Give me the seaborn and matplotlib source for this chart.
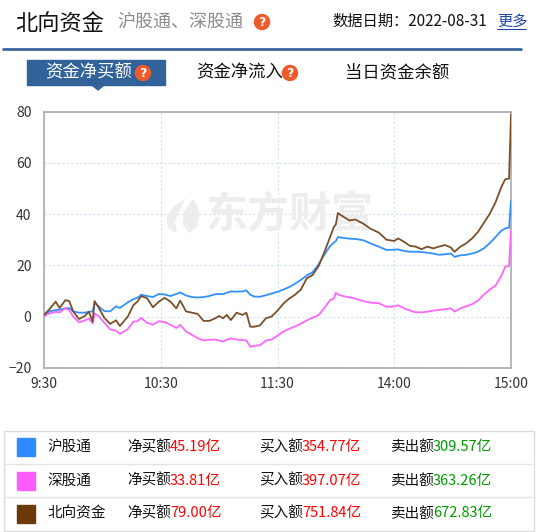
import matplotlib
matplotlib.use("Agg")
import matplotlib.pyplot as plt
from matplotlib.patches import Rectangle, Circle, Polygon
import seaborn as sns
import pandas as pd

# ---------------- data ----------------
minutes = [0, 3, 6, 8, 11, 13, 15, 18, 21, 23, 25, 26, 28, 31, 34, 37, 39, 43, 46, 48,
           50, 53, 56, 59, 62, 65, 68, 70, 73, 76, 79, 82, 85, 88, 90, 92, 94, 96, 99, 102,
           104, 106, 108, 111, 114, 117, 120, 123, 126, 129, 132, 135, 138, 141, 144, 147, 149, 150, 151, 154,
           157, 160, 164, 168, 172, 176, 180, 182, 185, 188, 191, 194, 197, 200, 203, 206, 209, 211, 214, 217,
           220, 223, 226, 229, 232, 235, 237, 239, 240]

hgt = [0.6, 2.0, 2.5, 2.6, 3.2, 3.3, 2.0, 1.5, 1.5, 1.8, 2.0, 5.3, 4.0, 2.1, 2.0, 4.0, 3.3, 5.5, 6.8, 7.3,
       8.5, 8.0, 7.6, 8.8, 8.6, 8.0, 8.8, 9.4, 8.2, 7.6, 7.4, 7.6, 8.0, 8.7, 8.8, 8.7, 9.3, 9.8, 9.7, 9.8,
       10.2, 8.5, 7.8, 7.7, 8.3, 9.0, 9.6, 10.5, 11.5, 12.8, 14.3, 16.0, 17.3, 20.2, 24.0, 27.5, 28.9, 29.5, 31.0, 30.7,
       30.4, 30.3, 29.8, 28.5, 27.3, 26.0, 26.1, 26.2, 25.6, 25.3, 25.3, 25.2, 24.9, 24.6, 24.1, 24.3, 24.6, 23.3, 23.9, 24.1,
       24.6, 25.3, 26.6, 28.6, 31.0, 33.5, 34.4, 34.7, 45.19]

sgt = [0.2, 1.2, 1.8, 1.6, 3.2, 2.5, 0.0, -2.3, -1.5, -0.8, -2.7, 1.2, 0.2, -2.5, -5.0, -5.5, -6.8, -5.0, -2.0, -1.8,
       -0.6, -2.5, -3.2, -1.8, -2.2, -3.2, -4.5, -3.3, -5.8, -7.2, -8.5, -9.3, -9.1, -9.0, -9.4, -9.8, -9.0, -8.6, -9.0, -9.2,
       -9.4, -11.8, -11.5, -11.2, -9.4, -9.0, -7.5, -5.9, -4.8, -3.9, -2.8, -1.5, -0.5, 0.5, 3.2, 6.4, 7.1, 9.3, 8.6, 7.9,
       7.5, 7.0, 6.0, 5.4, 5.2, 3.8, 3.9, 4.4, 3.2, 2.3, 1.7, 1.6, 1.9, 2.3, 2.6, 2.8, 3.2, 1.9, 3.2, 4.0,
       4.8, 6.2, 8.5, 10.5, 12.0, 15.8, 19.5, 19.7, 33.81]

bx = [0.6, 3.0, 5.8, 3.3, 6.4, 6.0, 2.0, -1.0, 0.2, 1.9, -2.0, 6.0, 3.6, -0.5, -2.9, -1.5, -3.7, -0.1, 4.5, 5.8,
      8.0, 7.1, 3.6, 5.8, 7.3, 5.8, 3.2, 6.2, 2.0, 1.5, 1.0, -1.7, -1.7, -0.7, 0.2, -0.7, 0.6, -1.4, 1.5, 0.6,
      1.5, -4.0, -4.0, -3.5, -0.7, 0.0, 2.3, 5.0, 7.0, 8.5, 10.5, 14.9, 16.2, 19.5, 25.0, 31.0, 35.0, 36.0, 40.4, 38.9,
      37.5, 37.9, 36.3, 34.2, 32.8, 30.0, 29.5, 30.5, 29.2, 27.6, 27.3, 26.3, 27.3, 26.6, 27.3, 27.9, 27.0, 25.3, 27.3, 28.6,
      30.5, 33.0, 36.5, 40.0, 44.5, 50.5, 53.6, 53.9, 79.0]

series_names = ["沪股通", "深股通", "北向资金"]
net_buy = ["45.19亿", "33.81亿", "79.00亿"]
buy_amt = ["354.77亿", "397.07亿", "751.84亿"]
sell_amt = ["309.57亿", "363.26亿", "672.83亿"]

x_tick_pos = [0, 60, 120, 180, 240]
x_tick_labels = ["9:30", "10:30", "11:30", "14:00", "15:00"]
y_ticks = [-20, 0, 20, 40, 60, 80]

line_colors = ["#3391ff", "#ff66ff", "#7a5028"]
square_colors = ["#2e8bff", "#ff5cff", "#6b3a08"]

# ---------------- figure ----------------
sns.set_style("white")
plt.rcParams['font.family'] = ['Noto Sans CJK SC', 'DejaVu Sans']

W, H = 537, 532
fig = plt.figure(figsize=(W / 100, H / 100), dpi=100)
fig.patch.set_facecolor("white")

L, R, T, B = 44, 511, 111.7, 367.7
ax = fig.add_axes([L / W, 1 - B / H, (R - L) / W, (B - T) / H])

df = pd.concat([
    pd.DataFrame({"minute": minutes, "value": v, "series": n})
    for v, n in zip([hgt, sgt, bx], series_names)
])
sns.lineplot(data=df, x="minute", y="value", hue="series", hue_order=series_names,
             palette=line_colors, ax=ax, legend=False, linewidth=1.3, zorder=3)

ax.set_xlim(0, 240)
ax.set_ylim(-20, 80)
ax.set_xticks(x_tick_pos)
ax.set_xticklabels(x_tick_labels)
ax.set_yticks(y_ticks)
ax.set_xlabel("")
ax.set_ylabel("")
ax.tick_params(axis="both", length=0, labelsize=10, colors="#333333")
ax.tick_params(axis="y", pad=9)
ax.tick_params(axis="x", pad=7)
ax.grid(True, color="#cfe0f2", linestyle=(0, (2, 2)), linewidth=0.8)
for s in ax.spines.values():
    s.set_color("#aaaaaa")
    s.set_linewidth(1.2)

# watermark (text + leaf logo), drawn beneath the lines
def to_ax(px, py):
    return (px - L) / (R - L), (B - py) / (B - T)

wx, wy = to_ax(290, 215)
wm = ax.text(wx, wy, "东方财富", transform=ax.transAxes, ha="center", va="center",
             fontsize=29, fontweight="bold", color="#ededee", zorder=1)
fig.canvas.draw()
bb = wm.get_window_extent(renderer=fig.canvas.get_renderer())
if bb.width > 0:
    wm.set_fontsize(29 * 168.0 / bb.width)

leaf1 = [to_ax(px, py) for px, py in [(186, 198), (174, 206), (166, 218), (168, 228), (177, 233),
                                      (175, 222), (179, 211)]]
leaf2 = [to_ax(px, py) for px, py in [(193, 199), (184, 211), (183, 224), (189, 233), (197, 227),
                                      (200, 214), (197, 205)]]
for lf in (leaf1, leaf2):
    ax.add_patch(Polygon(lf, closed=True, color="#ededee", transform=ax.transAxes, zorder=1, lw=0))

# ---------------- overlay in pixel coords ----------------
ov = fig.add_axes([0, 0, 1, 1], zorder=5)
ov.set_xlim(0, W)
ov.set_ylim(H, 0)
ov.axis("off")
ov.patch.set_alpha(0)

def qicon(x, y, r=7.5):
    ov.add_patch(Circle((x, y), r, color="#f0592a", zorder=6))
    ov.text(x, y + 0.5, "?", ha="center", va="center", fontsize=9, color="white",
            fontweight="bold", zorder=7, family="DejaVu Sans")

ov.text(15, 23, "北向资金", fontsize=16, color="#111111", va="center", ha="left")
ov.text(117, 22, "沪股通、深股通", fontsize=13, color="#8c8c8c", va="center", ha="left")
qicon(262, 22)
ov.text(332, 21, "数据日期：2022-08-31", fontsize=11, color="#111111", va="center", ha="left")
ov.text(497, 21, "更多", fontsize=11, color="#1f48a8", va="center", ha="left")
ov.plot([497, 526], [29, 29], color="#1f48a8", lw=0.8)

ov.plot([3, 521], [49, 49], color="#3a67a0", lw=2)

# tabs
ov.add_patch(Rectangle((27, 60), 138, 25, color="#31629a", zorder=4))
ov.add_patch(Polygon([[92, 85], [104, 85], [98, 90]], closed=True, color="#31629a", zorder=4))
ov.text(45, 72.5, "资金净买额", fontsize=12.5, color="white", va="center", ha="left", zorder=6)
qicon(143, 73)
ov.text(196, 72.5, "资金净流入", fontsize=12.5, color="#111111", va="center", ha="left")
qicon(290, 73)
ov.text(345, 72.5, "当日资金余额", fontsize=12.5, color="#111111", va="center", ha="left")

# legend table
ov.add_patch(Rectangle((3.5, 430.5), 530, 100, fill=False, edgecolor="#dcdcdc", lw=1))
for yy in [464, 497]:
    ov.plot([5, 532], [yy, yy], color="#e3e3e3", lw=1)
row_y = [447, 480.5, 513.5]
for i, name in enumerate(series_names):
    yc = row_y[i]
    ov.add_patch(Rectangle((17, yc - 9), 18, 18, color=square_colors[i]))
    ov.text(47, yc, name, fontsize=10.5, color="#111111", va="center", ha="left")
    ov.text(127, yc, "净买额", fontsize=10.5, color="#111111", va="center", ha="left")
    ov.text(170, yc, net_buy[i], fontsize=10.5, color="#ff0000", va="center", ha="left")
    ov.text(259, yc, "买入额", fontsize=10.5, color="#111111", va="center", ha="left")
    ov.text(302, yc, buy_amt[i], fontsize=10.5, color="#ff0000", va="center", ha="left")
    ov.text(390, yc, "卖出额", fontsize=10.5, color="#111111", va="center", ha="left")
    ov.text(433, yc, sell_amt[i], fontsize=10.5, color="#009a00", va="center", ha="left")

fig.savefig("out.png", dpi=100, facecolor="white")
